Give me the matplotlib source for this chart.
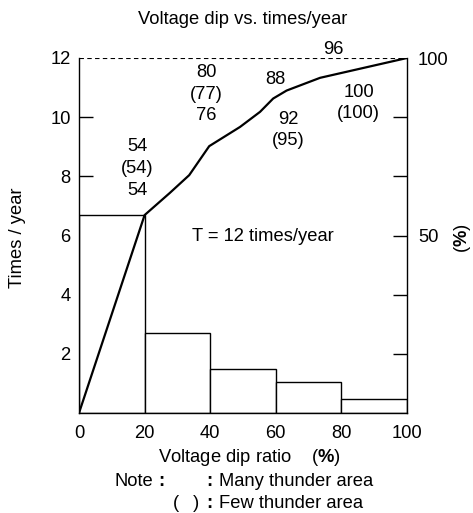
import matplotlib
matplotlib.use('Agg')
import matplotlib.pyplot as plt

plt.rcParams['font.family'] = ['Liberation Sans', 'DejaVu Sans']
plt.rcParams['mathtext.fontset'] = 'custom'
plt.rcParams['mathtext.rm'] = 'Liberation Sans'
plt.rcParams['mathtext.bf'] = 'Liberation Sans:bold'

# histogram: times/year per 20 % band of voltage dip ratio
bin_left = [0, 20, 40, 60, 80]
bin_height = [6.69, 2.71, 1.48, 1.04, 0.48]

# cumulative curve (times/year)
curve_x = [0, 20, 27.7, 33.6, 39.7, 49.1, 55.2, 59.2, 63.3, 73.5, 100]
curve_y = [0, 6.69, 7.44, 8.04, 9.02, 9.67, 10.18, 10.63, 10.9, 11.33, 12]

# cumulative percentage labels: (x, y, text)
pct_labels = [
    (17.7, 9.0, '54'), (17.7, 8.25, '(54)'), (17.7, 7.53, '54'),
    (38.9, 11.5, '80'), (38.9, 10.78, '(77)'), (38.9, 10.07, '76'),
    (60, 11.27, '88'), (63.8, 9.92, '92'), (63.8, 9.22, '(95)'),
    (77.5, 12.28, '96'), (85.2, 10.85, '100'), (85.2, 10.12, '(100)'),
]

x_ticks = [0, 20, 40, 60, 80, 100]
y_ticks = [2, 4, 6, 8, 10, 12]

fs = 13.2

fig = plt.figure(figsize=(4.73, 5.13), dpi=100)
ax = fig.add_axes([79 / 473, 100 / 513, 328 / 473, 355 / 513])

ax.bar(bin_left, bin_height, width=20, align='edge', facecolor='white',
       edgecolor='black', linewidth=1.0, zorder=2)
ax.plot(curve_x, curve_y, color='black', linewidth=1.6, zorder=3)

for x, y, t in pct_labels:
    ax.text(x, y, t, ha='center', va='center', fontsize=fs)

ax.text(56, 5.96, 'T = 12 times/year', ha='center', va='center', fontsize=fs)

ax.set_xlim(0, 100)
ax.set_ylim(0, 12)

# right-hand percentage labels (twinx resets the right ticks of ax)
ax2 = ax.twinx()
ax2.set_ylim(0, 12)
ax2.set_yticks([6, 12])
ax2.set_yticklabels(['50', '100'])
ax2.tick_params(axis='y', length=0, pad=8, labelsize=fs)
for s in ax2.spines.values():
    s.set_visible(False)

ax.set_xticks(x_ticks)
ax.set_yticks(y_ticks)
ax.tick_params(axis='x', length=0, pad=9, labelsize=fs)
ax.tick_params(axis='y', direction='in', length=10, width=1.0,
               left=True, right=True, labelleft=True, labelright=False,
               pad=6, labelsize=fs)
top_tick = ax.yaxis.get_major_ticks()[-1]
top_tick.tick1line.set_visible(False)
top_tick.tick2line.set_visible(False)

for side in ('left', 'right', 'bottom'):
    ax.spines[side].set_linewidth(1.0)
ax.spines['top'].set_visible(False)
ax.axhline(12, color='black', linewidth=0.8, linestyle=(0, (4, 3)), zorder=1)

fig.text(0.5 * (79 + 407) / 473, 1 - 20 / 513, 'Voltage dip vs. times/year',
         ha='center', va='center', fontsize=fs)
fig.text(18 / 473, 1 - 238 / 513, 'Times / year', rotation=90,
         ha='center', va='center', fontsize=fs)
fig.text(462 / 473, 1 - 238 / 513, r'($\mathbf{\%}$)', rotation=90,
         ha='center', va='center', fontsize=fs)
fig.text(249 / 473, 1 - 457 / 513, r'Voltage dip ratio    ($\mathbf{\%}$)',
         ha='center', va='center', fontsize=fs)

fig.text(114 / 473, 1 - 482 / 513, 'Note', ha='left', va='center', fontsize=fs)
fig.text(161 / 473, 1 - 482 / 513, ':', ha='center', va='center',
         fontsize=fs, fontweight='bold')
fig.text(209 / 473, 1 - 482 / 513, ':', ha='center', va='center',
         fontsize=fs, fontweight='bold')
fig.text(219 / 473, 1 - 482 / 513, 'Many thunder area', ha='left',
         va='center', fontsize=fs)
fig.text(176 / 473, 1 - 503 / 513, '(', ha='center', va='center', fontsize=fs)
fig.text(196 / 473, 1 - 503 / 513, ')', ha='center', va='center', fontsize=fs)
fig.text(209 / 473, 1 - 503 / 513, ':', ha='center', va='center',
         fontsize=fs, fontweight='bold')
fig.text(219 / 473, 1 - 503 / 513, 'Few thunder area', ha='left',
         va='center', fontsize=fs)

fig.savefig('out.png', dpi=100)
